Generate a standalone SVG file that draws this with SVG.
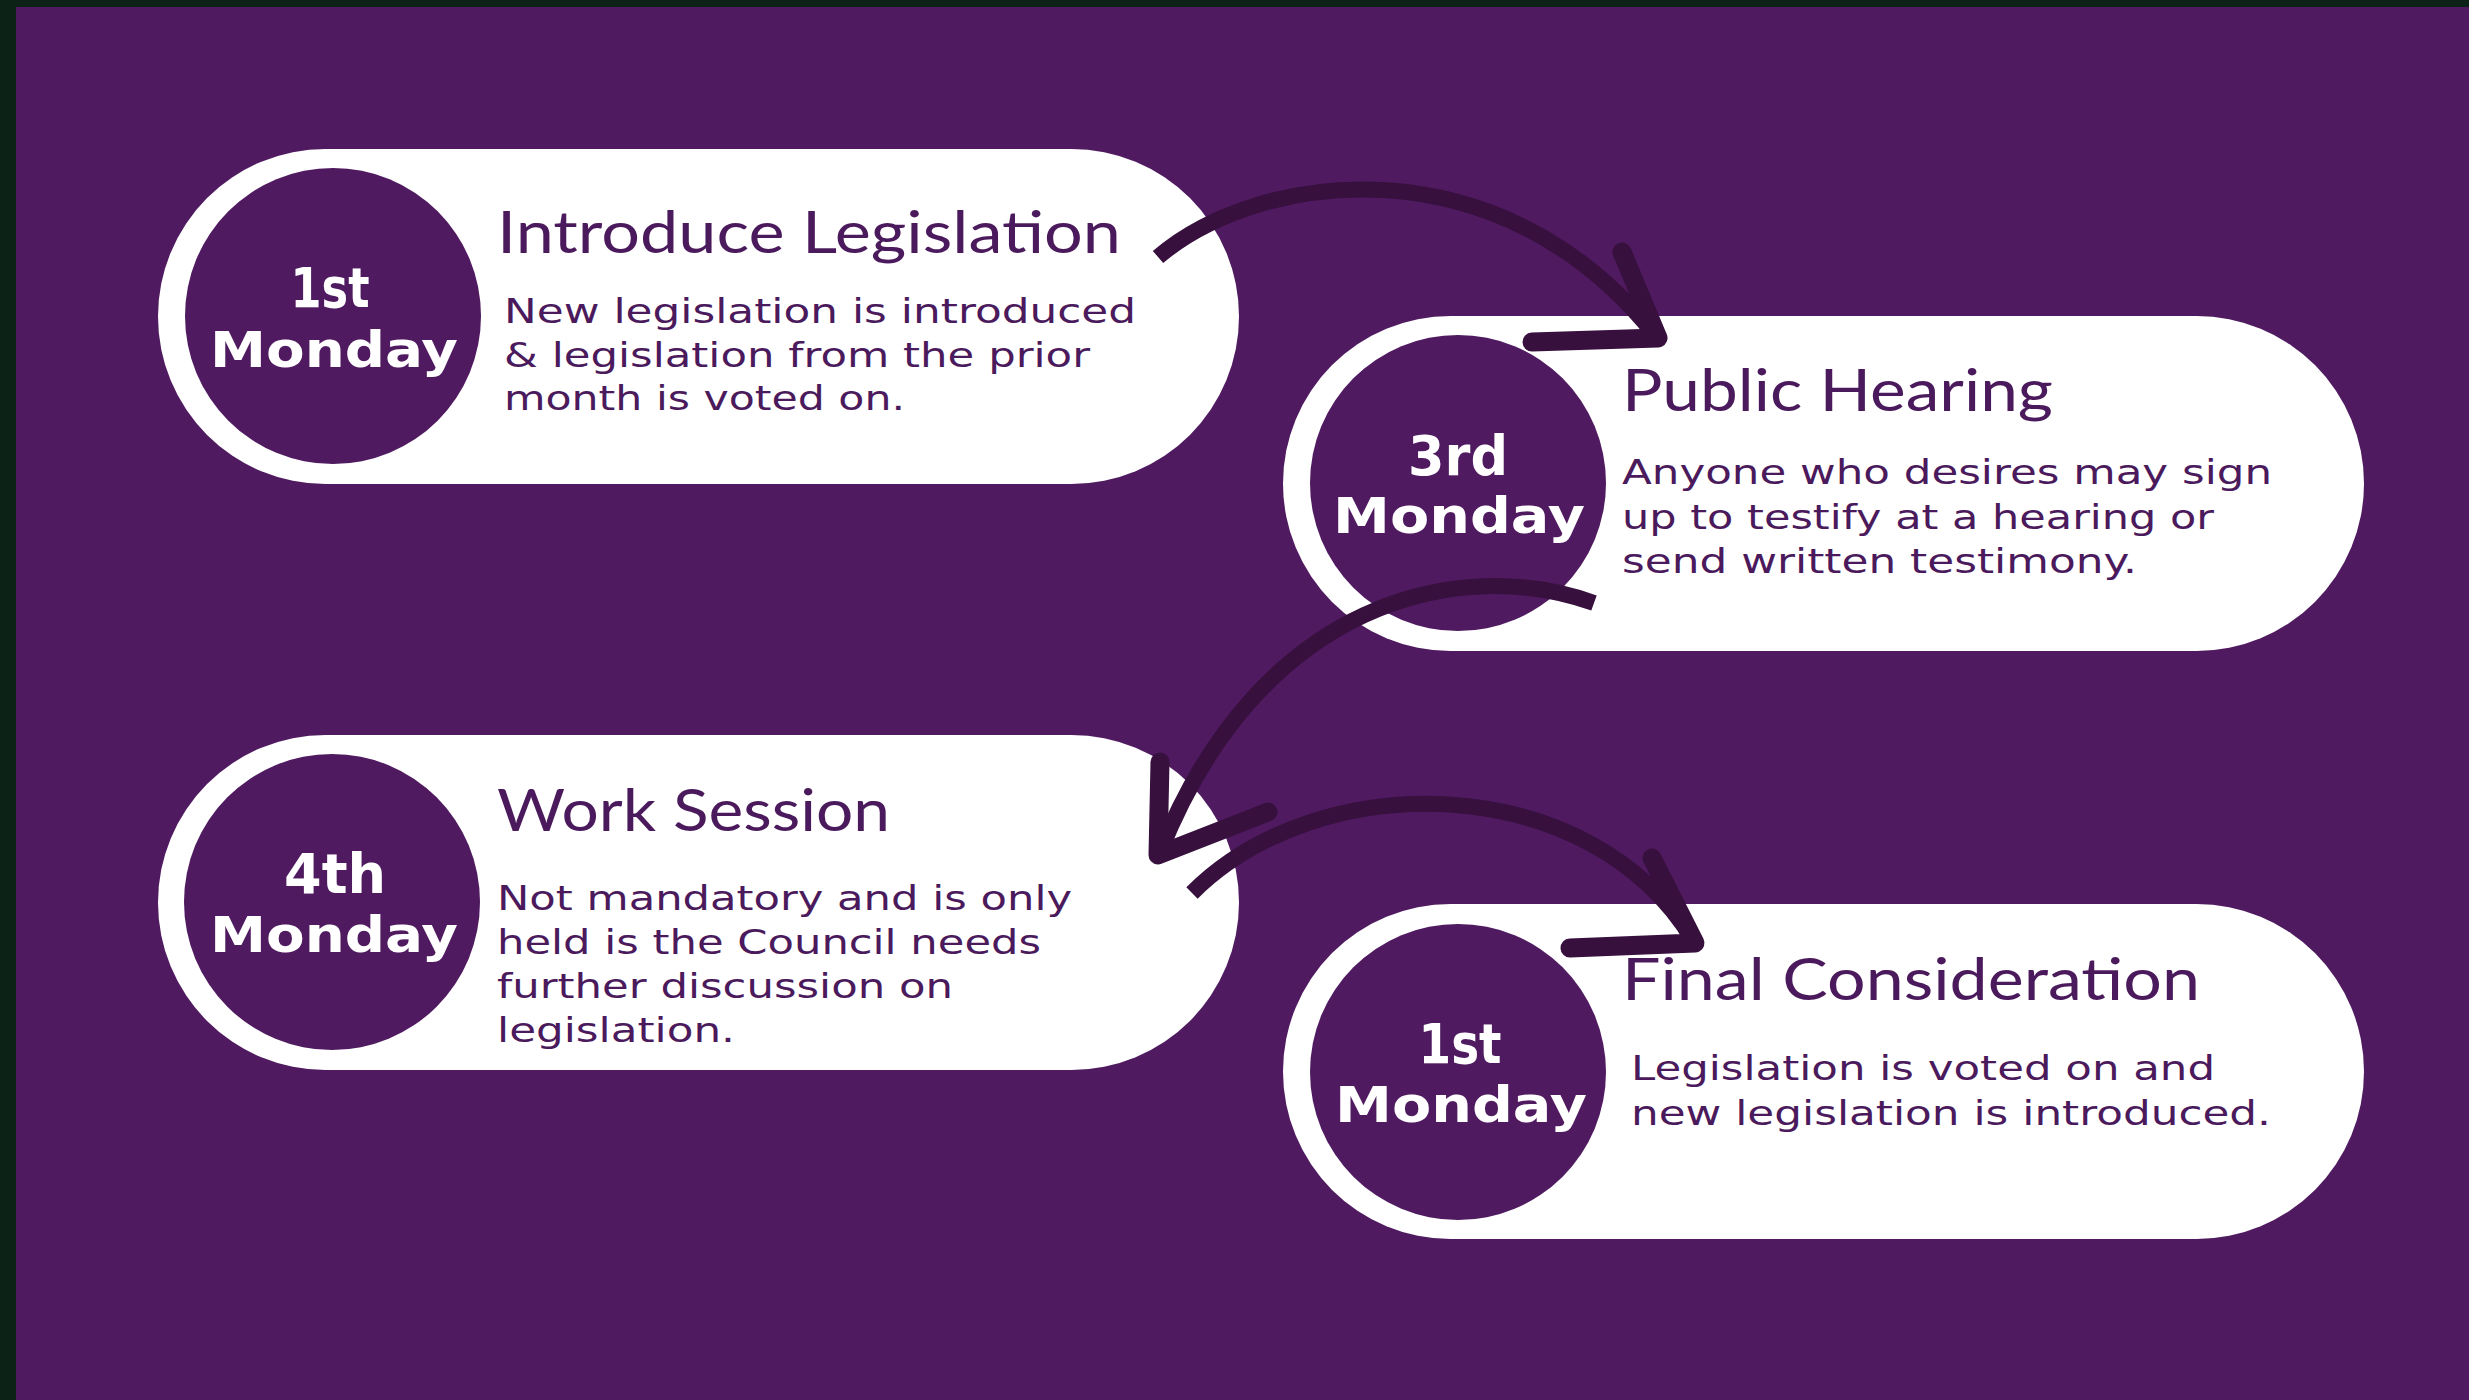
<svg xmlns="http://www.w3.org/2000/svg" width="2469" height="1400" viewBox="0 0 2469 1400">
<style>
.pill{fill:#ffffff}
.disc{fill:#4f1a60}
.day{font-family:"DejaVu Sans","Liberation Sans",sans-serif;font-weight:700;fill:#ffffff;text-anchor:middle}
.d1{font-size:56px}
.d2{font-size:50px}
.ttl{font-family:Lato,"Liberation Sans",sans-serif;font-weight:400;font-size:58px;fill:#4b1a5c}
.body{font-family:"DejaVu Sans","Liberation Sans",sans-serif;font-size:34px;fill:#4b1a5c}
.shaft{fill:none;stroke:#37103e;stroke-width:16;stroke-linecap:butt}
.head{fill:none;stroke:#37103e;stroke-width:19;stroke-linecap:round;stroke-linejoin:round}
</style>
<rect x="0" y="0" width="2469" height="1400" fill="#4f1a60"/>
<rect x="0" y="0" width="2469" height="7" fill="#0c2216"/>
<rect x="0" y="0" width="16" height="1400" fill="#0c2216"/>

<g id="node-introduce">
<rect class="pill" x="158" y="149" width="1081" height="335" rx="167.5" ry="167.5"/>
<circle class="disc" cx="333" cy="316" r="148"/>
<text class="day d1" x="330" y="307" textLength="79" lengthAdjust="spacingAndGlyphs">1st</text>
<text class="day d2" x="334" y="367" textLength="248" lengthAdjust="spacingAndGlyphs">Monday</text>
<text class="ttl" x="497" y="253" textLength="624" lengthAdjust="spacingAndGlyphs">Introduce Legislation</text>
<text class="body" x="504" y="323" textLength="632" lengthAdjust="spacingAndGlyphs">New legislation is introduced</text>
<text class="body" x="504" y="367" textLength="586" lengthAdjust="spacingAndGlyphs">&amp; legislation from the prior</text>
<text class="body" x="504" y="410" textLength="401" lengthAdjust="spacingAndGlyphs">month is voted on.</text>
</g>

<g id="node-public-hearing">
<rect class="pill" x="1283" y="316" width="1081" height="335" rx="167.5" ry="167.5"/>
<circle class="disc" cx="1458" cy="483" r="148"/>
<text class="day d1" x="1458" y="475" textLength="100" lengthAdjust="spacingAndGlyphs">3rd</text>
<text class="day d2" x="1459" y="533" textLength="252" lengthAdjust="spacingAndGlyphs">Monday</text>
<text class="ttl" x="1622" y="411" textLength="431" lengthAdjust="spacingAndGlyphs">Public Hearing</text>
<text class="body" x="1622" y="484" textLength="650" lengthAdjust="spacingAndGlyphs">Anyone who desires may sign</text>
<text class="body" x="1622" y="529" textLength="592" lengthAdjust="spacingAndGlyphs">up to testify at a hearing or</text>
<text class="body" x="1622" y="573" textLength="515" lengthAdjust="spacingAndGlyphs">send written testimony.</text>
</g>

<g id="node-work-session">
<rect class="pill" x="158" y="735" width="1081" height="335" rx="167.5" ry="167.5"/>
<circle class="disc" cx="332" cy="902" r="148"/>
<text class="day d1" x="335" y="893" textLength="102" lengthAdjust="spacingAndGlyphs">4th</text>
<text class="day d2" x="334" y="952" textLength="248" lengthAdjust="spacingAndGlyphs">Monday</text>
<text class="ttl" x="497" y="831" textLength="393" lengthAdjust="spacingAndGlyphs">Work Session</text>
<text class="body" x="497" y="910" textLength="575" lengthAdjust="spacingAndGlyphs">Not mandatory and is only</text>
<text class="body" x="497" y="954" textLength="544" lengthAdjust="spacingAndGlyphs">held is the Council needs</text>
<text class="body" x="497" y="998" textLength="456" lengthAdjust="spacingAndGlyphs">further discussion on</text>
<text class="body" x="497" y="1042" textLength="238" lengthAdjust="spacingAndGlyphs">legislation.</text>
</g>

<g id="node-final-consideration">
<rect class="pill" x="1283" y="904" width="1081" height="335" rx="167.5" ry="167.5"/>
<circle class="disc" cx="1458" cy="1072" r="148"/>
<text class="day d1" x="1460" y="1063" textLength="83" lengthAdjust="spacingAndGlyphs">1st</text>
<text class="day d2" x="1461" y="1122" textLength="252" lengthAdjust="spacingAndGlyphs">Monday</text>
<text class="ttl" x="1622" y="1000" textLength="578" lengthAdjust="spacingAndGlyphs">Final Consideration</text>
<text class="body" x="1631" y="1080" textLength="584" lengthAdjust="spacingAndGlyphs">Legislation is voted on and</text>
<text class="body" x="1631" y="1125" textLength="640" lengthAdjust="spacingAndGlyphs">new legislation is introduced.</text>
</g>

<g id="connectors">
<path class="shaft" d="M1158,257 C1260,170 1500,140 1655,335"/>
<path class="head" d="M1622,252 L1658,338 L1532,342"/>
<path class="shaft" d="M1594,603 C1460,555 1260,600 1160,852"/>
<path class="head" d="M1160,762 L1158,855 L1268,812"/>
<path class="shaft" d="M1192,893 C1320,765 1590,770 1693,940"/>
<path class="head" d="M1652,858 L1695,943 L1570,948"/>
</g>
</svg>
